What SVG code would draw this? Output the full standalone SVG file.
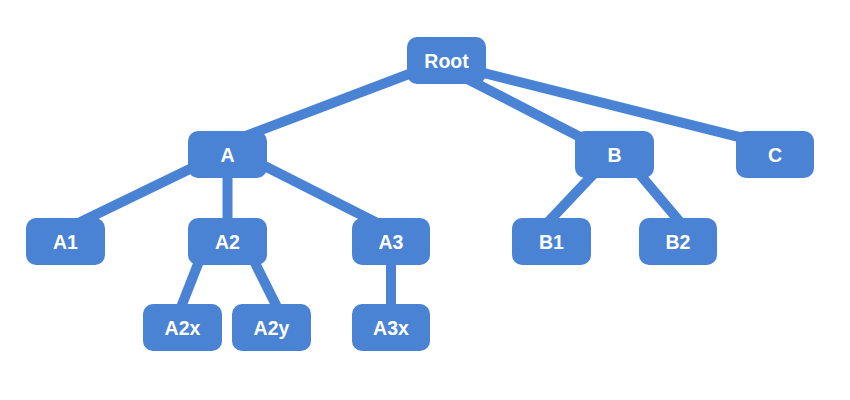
<svg xmlns="http://www.w3.org/2000/svg" width="850" height="400" viewBox="0 0 850 400">
  <style>
    .edge { stroke: #4a83d3; stroke-width: 10; fill: none; }
    .box { fill: #4a83d3; }
    .label { fill: #ffffff; font-family: "Liberation Sans", Arial, sans-serif; font-weight: bold; font-size: 19.5px; text-anchor: middle; }
  </style>
  <rect width="850" height="400" fill="#ffffff"/>
  <!-- connectors, drawn beneath the boxes -->
  <g id="connectors">
    <line class="edge" x1="446" y1="60" x2="227" y2="143"/>
    <line class="edge" x1="446" y1="68" x2="614" y2="154.5"/>
    <line class="edge" x1="446" y1="63.5" x2="775" y2="146"/>
    <line class="edge" x1="227" y1="151" x2="65.5" y2="229.3"/>
    <line class="edge" x1="227.5" y1="154" x2="227.5" y2="241"/>
    <line class="edge" x1="227" y1="147" x2="391" y2="230"/>
    <line class="edge" x1="207" y1="241" x2="176" y2="320"/>
    <line class="edge" x1="244" y1="241" x2="283.5" y2="320"/>
    <line class="edge" x1="391" y1="241" x2="391" y2="327"/>
    <line class="edge" x1="612" y1="154.5" x2="535" y2="236"/>
    <line class="edge" x1="623" y1="154.5" x2="691" y2="235"/>
  </g>
  <g id="Root"><rect class="box" x="407" y="37" width="79" height="47" rx="10"/><text class="label" x="446.5" y="67.5">Root</text></g>
  <g id="A"><rect class="box" x="188" y="131" width="79" height="47" rx="10"/><text class="label" x="227.5" y="161.5">A</text></g>
  <g id="B"><rect class="box" x="575" y="131" width="79" height="47" rx="10"/><text class="label" x="614.5" y="161.5">B</text></g>
  <g id="C"><rect class="box" x="736" y="131" width="78" height="47" rx="10"/><text class="label" x="775" y="161.5">C</text></g>
  <g id="A1"><rect class="box" x="26" y="218" width="79" height="47" rx="10"/><text class="label" x="65.5" y="248.5">A1</text></g>
  <g id="A2"><rect class="box" x="188" y="218" width="79" height="47" rx="10"/><text class="label" x="227.5" y="248.5">A2</text></g>
  <g id="A3"><rect class="box" x="352" y="218" width="78" height="47" rx="10"/><text class="label" x="391" y="248.5">A3</text></g>
  <g id="B1"><rect class="box" x="512" y="218" width="79" height="47" rx="10"/><text class="label" x="551.5" y="248.5">B1</text></g>
  <g id="B2"><rect class="box" x="639" y="218" width="78" height="47" rx="10"/><text class="label" x="678" y="248.5">B2</text></g>
  <g id="A2x"><rect class="box" x="143" y="304" width="79" height="47" rx="10"/><text class="label" x="182.5" y="334.5">A2x</text></g>
  <g id="A2y"><rect class="box" x="232" y="304" width="79" height="47" rx="10"/><text class="label" x="271.5" y="334.5">A2y</text></g>
  <g id="A3x"><rect class="box" x="352" y="304" width="78" height="47" rx="10"/><text class="label" x="391" y="334.5">A3x</text></g>
</svg>
